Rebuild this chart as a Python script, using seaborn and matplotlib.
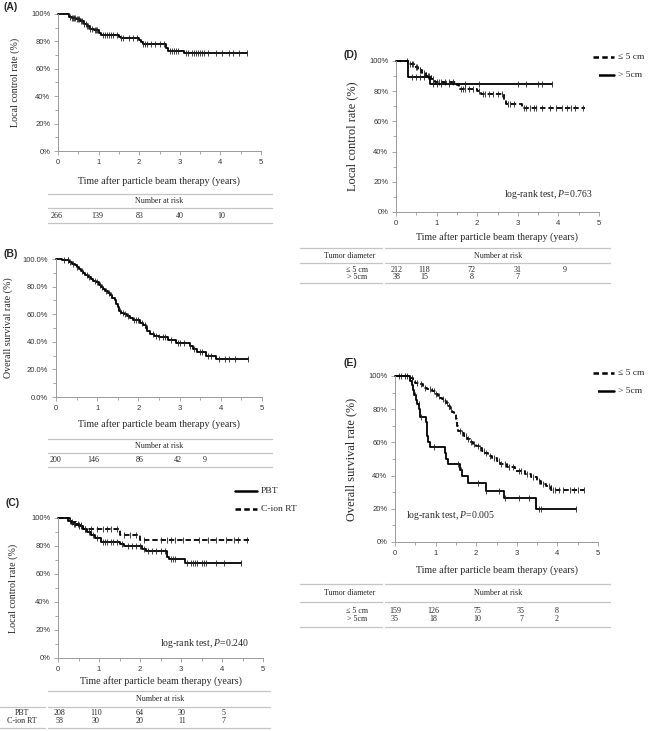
import numpy as np
import matplotlib
matplotlib.use("Agg")
import matplotlib.pyplot as plt
import seaborn as sns

# ---------------- data ----------------
# (A) local control, all patients
a_time = [0.26, 0.34, 0.45, 0.55, 0.63, 0.71, 0.79, 0.88, 1.0, 1.05, 1.5, 1.55, 2.0, 2.05, 2.1, 2.65, 2.7, 3.1]
a_surv = [0.98, 0.97, 0.96, 0.95, 0.93, 0.91, 0.89, 0.88, 0.86, 0.85, 0.835, 0.822, 0.81, 0.795, 0.783, 0.75, 0.733, 0.716]
a_end = 4.65
a_cens = [0.3, 0.35, 0.38, 0.4, 0.42, 0.47, 0.5, 0.52, 0.57, 0.6, 0.65, 0.68, 0.72, 0.75, 0.8, 0.83, 0.9, 0.93,
          0.97, 1.1, 1.15, 1.2, 1.25, 1.3, 1.35, 1.45, 1.55, 1.6, 1.75, 1.85, 1.95, 2.1, 2.15, 2.2, 2.3, 2.4, 2.5,
          2.6, 2.75, 2.8, 2.85, 2.9, 2.95, 3.15, 3.2, 3.3, 3.35, 3.4, 3.45, 3.5, 3.55, 3.6, 3.7, 3.9, 4.05, 4.2,
          4.3, 4.45, 4.65]
a_risk = [266, 139, 83, 40, 10]

# (B) overall survival, all patients
b_time = [0.15, 0.25, 0.32, 0.4, 0.45, 0.5, 0.55, 0.6, 0.65, 0.7, 0.78, 0.85, 0.9, 0.97, 1.05, 1.1, 1.15, 1.2,
          1.25, 1.3, 1.36, 1.42, 1.46, 1.5, 1.54, 1.58, 1.65, 1.72, 1.8, 1.87, 2.05, 2.12, 2.18, 2.22, 2.28, 2.38,
          2.5, 2.72, 2.92, 3.25, 3.32, 3.42, 3.65, 3.88]
b_surv = [0.995, 0.99, 0.98, 0.965, 0.955, 0.945, 0.93, 0.915, 0.90, 0.885, 0.87, 0.855, 0.84, 0.83, 0.815, 0.80,
          0.785, 0.77, 0.755, 0.74, 0.72, 0.70, 0.675, 0.65, 0.625, 0.61, 0.60, 0.585, 0.57, 0.555, 0.535, 0.52,
          0.50, 0.48, 0.46, 0.445, 0.435, 0.415, 0.39, 0.37, 0.345, 0.325, 0.30, 0.275]
b_end = 4.65
b_cens = [0.2, 0.28, 0.3, 0.35, 0.42, 0.5, 0.62, 0.75, 0.8, 0.95, 1.0, 1.08, 1.12, 1.22, 1.28, 1.33, 1.55, 1.62,
          1.68, 1.75, 1.9, 1.95, 2.0, 2.08, 2.15, 2.2, 2.35, 2.42, 2.5, 2.6, 2.65, 2.8, 2.95, 3.0, 3.1, 3.25, 3.35,
          3.5, 3.55, 3.7, 3.75, 3.95, 4.1, 4.2, 4.35, 4.65]
b_risk = [200, 146, 86, 42, 9]

# (C) local control by modality
pbt_time = [0.25, 0.35, 0.5, 0.6, 0.7, 0.8, 0.9, 1.05, 1.5, 1.6, 2.05, 2.15, 2.65, 2.7, 3.1]
pbt_surv = [0.98, 0.96, 0.94, 0.92, 0.90, 0.88, 0.86, 0.83, 0.815, 0.80, 0.78, 0.765, 0.72, 0.705, 0.68]
pbt_end = 4.47
pbt_cens = [0.3, 0.38, 0.42, 0.48, 0.52, 0.55, 0.65, 0.75, 0.85, 0.95, 1.1, 1.15, 1.2, 1.3, 1.35, 1.45, 1.55,
            1.7, 1.8, 1.9, 2.0, 2.1, 2.2, 2.3, 2.4, 2.5, 2.6, 2.75, 2.8, 2.85, 3.15, 3.25, 3.3, 3.35, 3.4, 3.5,
            3.55, 3.6, 3.85, 4.05, 4.47]
cion_time = [0.3, 0.45, 0.6, 1.5, 2.0]
cion_surv = [0.97, 0.95, 0.925, 0.88, 0.84]
cion_end = 4.65
cion_cens = [0.35, 0.5, 0.55, 0.65, 0.8, 0.95, 1.1, 1.2, 1.3, 1.45, 1.6, 1.75, 1.9, 2.1, 2.5, 2.65, 2.75, 2.85,
             3.05, 3.45, 3.65, 3.85, 4.1, 4.3, 4.4, 4.6]
c_groups = ["PBT", "C-ion RT"]
c_risk = [[208, 110, 64, 30, 5], [58, 30, 20, 11, 7]]
c_p = "0.240"

# (D) local control by tumour diameter
d_small_time = [0.3, 0.45, 0.55, 0.65, 0.75, 0.85, 0.95, 1.5, 1.55, 2.0, 2.1, 2.65, 2.7, 3.1]
d_small_surv = [0.98, 0.96, 0.94, 0.92, 0.90, 0.88, 0.86, 0.84, 0.815, 0.80, 0.78, 0.74, 0.715, 0.69]
d_small_end = 4.65
d_small_cens = [0.28, 0.35, 0.4, 0.42, 0.5, 0.52, 0.58, 0.6, 0.7, 0.78, 0.82, 0.9, 1.0, 1.05, 1.1, 1.2, 1.3, 1.4,
                1.6, 1.65, 1.7, 1.8, 1.9, 2.05, 2.15, 2.2, 2.3, 2.4, 2.5, 2.6, 2.75, 2.8, 2.9, 3.15, 3.2, 3.3,
                3.4, 3.45, 3.6, 3.8, 3.95, 4.1, 4.2, 4.3, 4.4, 4.6]
d_large_time = [0.29, 0.83]
d_large_surv = [0.895, 0.845]
d_large_end = 3.85
d_large_cens = [0.4, 0.5, 0.6, 0.7, 0.9, 1.0, 1.1, 1.3, 1.7, 2.05, 3.0, 3.2, 3.5, 3.6, 3.85]
size_groups = ["\u2264 5 cm", "> 5cm"]
d_risk = [[212, 118, 72, 31, 9], [38, 15, 8, 7, None]]
d_p = "0.763"

# (E) overall survival by tumour diameter
e_small_time = [0.38, 0.45, 0.5, 0.6, 0.7, 0.8, 0.9, 1.0, 1.05, 1.1, 1.15, 1.2, 1.25, 1.3, 1.35, 1.4, 1.45, 1.5,
                1.53, 1.56, 1.62, 1.7, 1.78, 1.84, 1.92, 2.0, 2.08, 2.15, 2.22, 2.3, 2.4, 2.5, 2.58, 2.75, 2.95,
                3.2, 3.35, 3.5, 3.6, 3.72, 3.85]
e_small_surv = [0.985, 0.97, 0.96, 0.95, 0.93, 0.92, 0.91, 0.89, 0.88, 0.87, 0.86, 0.85, 0.835, 0.82, 0.80, 0.785,
                0.78, 0.74, 0.70, 0.67, 0.655, 0.64, 0.62, 0.60, 0.59, 0.58, 0.565, 0.55, 0.535, 0.52, 0.505,
                0.485, 0.47, 0.45, 0.425, 0.41, 0.39, 0.37, 0.35, 0.335, 0.315]
e_small_end = 4.65
e_small_cens = [0.1, 0.16, 0.25, 0.3, 0.42, 0.55, 0.65, 0.75, 0.85, 0.95, 1.0, 1.08, 1.18, 1.22, 1.28, 1.33, 1.38,
                1.6, 1.65, 1.75, 1.8, 1.88, 1.95, 2.05, 2.1, 2.18, 2.25, 2.35, 2.45, 2.55, 2.62, 2.7, 2.8, 2.9,
                3.05, 3.1, 3.25, 3.4, 3.55, 3.65, 3.8, 3.9, 3.95, 4.05, 4.15, 4.3, 4.4, 4.5, 4.65]
e_large_time = [0.38, 0.42, 0.45, 0.48, 0.52, 0.55, 0.6, 0.62, 0.76, 0.78, 0.8, 0.82, 0.85, 1.22, 1.25, 1.3, 1.6,
                1.65, 1.8, 2.25, 2.68, 3.48]
e_large_surv = [0.971, 0.943, 0.914, 0.886, 0.857, 0.829, 0.80, 0.755, 0.72, 0.68, 0.64, 0.603, 0.57, 0.535, 0.50,
                0.47, 0.435, 0.40, 0.357, 0.31, 0.266, 0.20]
e_large_end = 4.45
e_large_cens = [0.5, 0.58, 0.65, 0.95, 1.55, 1.62, 2.05, 2.25, 2.55, 2.7, 3.05, 3.3, 3.55, 3.6, 4.45]
e_risk = [[159, 126, 75, 35, 8], [35, 18, 10, 7, 2]]
e_p = "0.005"

x_ticks = [0, 1, 2, 3, 4, 5]
y_ticks = [0, 0.2, 0.4, 0.6, 0.8, 1.0]
xlab = "Time after particle beam therapy (years)"

# ---------------- figure ----------------
W, H = 650, 731
sns.set_style("ticks")
plt.rcParams["font.family"] = ["Liberation Serif", "DejaVu Serif"]
plt.rcParams["mathtext.fontset"] = "custom"
plt.rcParams["mathtext.it"] = "Liberation Serif:italic"
plt.rcParams["mathtext.rm"] = "Liberation Serif"

fig = plt.figure(figsize=(6.5, 7.31), dpi=100)
GRID = "#9a9a9a"
SANS = "Liberation Sans"


def px_axes(left, top, right, bottom):
    return fig.add_axes([left / W, 1 - bottom / H, (right - left) / W, (bottom - top) / H])


def draw_curve(ax, times, surv, end, cens, dashed=False):
    xs = np.r_[0.0, times, end]
    ys = np.r_[1.0, surv, surv[-1]]
    ls = (0, (3, 1.6)) if dashed else "-"
    sns.lineplot(x=xs, y=ys, ax=ax, drawstyle="steps-post", color="k", lw=1.3, ls=ls,
                 estimator=None, sort=False, clip_on=False)
    c = np.asarray(cens)
    cy = ys[np.clip(np.searchsorted(xs, c, side="right") - 1, 0, len(ys) - 1)]
    ax.plot(c, cy, ls="none", marker="|", ms=5, mew=0.6, color="#222", clip_on=False)


def style_axes(ax, rect, fmt, ylabel, ylab_x, xlab_y, ysize):
    left, top, right, bottom = rect
    ax.set_xlim(0, 5)
    ax.set_ylim(0, 1)
    ax.set_xticks(x_ticks, [str(v) for v in x_ticks], family=SANS, fontsize=5.5, color="#333")
    ax.set_xticks(np.arange(0.5, 5, 1.0), minor=True)
    ax.set_yticks(y_ticks, [fmt.format(v * 100) for v in y_ticks], family=SANS, fontsize=5.5, color="#333")
    ax.set_yticks(np.arange(0.1, 1.0, 0.2), minor=True)
    sns.despine(ax=ax)
    for s in ["left", "bottom"]:
        ax.spines[s].set_color(GRID)
        ax.spines[s].set_linewidth(0.7)
    ax.tick_params(which="both", color=GRID, width=0.6)
    ax.tick_params(which="major", length=3, pad=2.5)
    ax.tick_params(which="minor", length=2)
    ax.set_ylabel(ylabel, fontsize=ysize)
    ax.yaxis.set_label_coords((ylab_x - left) / (right - left), 0.5)
    ax.yaxis.label.set_va("center")
    ax.set_xlabel(xlab, fontsize=7.2)
    ax.xaxis.set_label_coords(0.5, -(xlab_y - bottom) / (bottom - top))
    ax.xaxis.label.set_va("center")


ov = fig.add_axes([0, 0, 1, 1])
ov.set_xlim(0, W)
ov.set_ylim(H, 0)
ov.set_axis_off()
ov.patch.set_facecolor("none")


def hline(x0, x1, y):
    ov.plot([x0, x1], [y, y], color="#c4c4c4", lw=0.9)


def tx(x, y, s, size=5.8, ha="center", **kw):
    ov.text(x, y, s, fontsize=size, ha=ha, va="center", **kw)


def legend(x0, x1, y0, dy, labels, dashed_first):
    for i, lab in enumerate(labels):
        dashed = (i == 0) == dashed_first
        ov.plot([x0, x1], [y0 + i * dy] * 2, color="k", lw=1.8,
                ls=(0, (2.2, 1.3)) if dashed else "-")
        tx(x1 + 4, y0 + i * dy, lab, size=6.8, ha="left")


# ---- (A) ----
ra = (58, 14, 261, 151)
ax = px_axes(*ra)
draw_curve(ax, a_time, a_surv, a_end, a_cens)
style_axes(ax, ra, "{:.0f}%", "Local control rate (%)", 15, 181, 7.2)
tx(3, 7, "(A)", size=7.5, ha="left", family=SANS, weight="bold")
for y in (194, 208, 223):
    hline(48, 272, y)
tx(159, 201, "Number at risk")
for x, n in zip([57, 97, 140, 180, 221], a_risk):
    tx(x, 216, str(n))

# ---- (B) ----
rb = (56, 259, 262, 397)
ax = px_axes(*rb)
draw_curve(ax, b_time, b_surv, b_end, b_cens)
style_axes(ax, rb, "{:.1f}%", "Overall survival rate (%)", 8, 424, 7.2)
tx(3, 254, "(B)", size=7.5, ha="left", family=SANS, weight="bold")
for y in (439, 453, 467):
    hline(48, 272, y)
tx(159, 446, "Number at risk")
for x, n in zip([55, 93, 140, 178, 205], b_risk):
    tx(x, 460, str(n))

# ---- (C) ----
rc = (58, 518, 263, 658)
ax = px_axes(*rc)
draw_curve(ax, pbt_time, pbt_surv, pbt_end, pbt_cens)
draw_curve(ax, cion_time, cion_surv, cion_end, cion_cens, dashed=True)
style_axes(ax, rc, "{:.0f}%", "Local control rate (%)", 13, 681, 7.2)
ax.text(0.93, 0.1, f"log-rank test, $P$={c_p}", transform=ax.transAxes, ha="right", va="center", fontsize=7)
tx(5, 503, "(C)", size=7.5, ha="left", family=SANS, weight="bold")
legend(235, 257, 491, 18, c_groups, dashed_first=False)
hline(48, 270, 691)
for y in (707, 728):
    hline(0, 45, y)
    hline(48, 270, y)
tx(160, 699, "Number at risk")
for row, y, lab in zip(c_risk, (713, 721), c_groups):
    tx(22, y, lab)
    for x, n in zip([59, 96, 140, 182, 224], row):
        tx(x, y, str(n))

# ---- (D) ----
rd = (396, 61, 599, 212)
ax = px_axes(*rd)
draw_curve(ax, d_small_time, d_small_surv, d_small_end, d_small_cens, dashed=True)
draw_curve(ax, d_large_time, d_large_surv, d_large_end, d_large_cens)
style_axes(ax, rd, "{:.0f}%", "Local control rate (%)", 352, 237, 8.9)
ax.text(0.97, 0.115, f"log-rank test, $P$={d_p}", transform=ax.transAxes, ha="right", va="center", fontsize=7)
tx(343, 55, "(D)", size=7.5, ha="left", family=SANS, weight="bold")
legend(593, 614, 57, 18, size_groups, dashed_first=True)
for y in (248, 263, 283):
    hline(300, 382, y)
    hline(385, 610, y)
tx(350, 256, "Tumor diameter")
tx(498, 256, "Number at risk")
for row, y, lab in zip(d_risk, (270, 277), size_groups):
    tx(357, y, lab)
    for x, n in zip([397, 424, 472, 518, 565], row):
        if n is not None:
            tx(x, y, str(n))

# ---- (E) ----
re = (395, 376, 598, 542)
ax = px_axes(*re)
draw_curve(ax, e_small_time, e_small_surv, e_small_end, e_small_cens, dashed=True)
draw_curve(ax, e_large_time, e_large_surv, e_large_end, e_large_cens)
style_axes(ax, re, "{:.0f}%", "Overall survival rate (%)", 351, 570, 8.9)
ax.text(0.055, 0.16, f"log-rank test, $P$={e_p}", transform=ax.transAxes, ha="left", va="center", fontsize=7)
tx(343, 363, "(E)", size=7.5, ha="left", family=SANS, weight="bold")
legend(593, 614, 373, 18, size_groups, dashed_first=True)
for y in (584, 602, 627):
    hline(300, 382, y)
    hline(385, 610, y)
tx(350, 593, "Tumor diameter")
tx(498, 593, "Number at risk")
for row, y, lab in zip(e_risk, (611, 619), size_groups):
    tx(357, y, lab)
    for x, n in zip([395, 433, 477, 521, 557], row):
        tx(x, y, str(n))

fig.savefig("out.png", dpi=100)
